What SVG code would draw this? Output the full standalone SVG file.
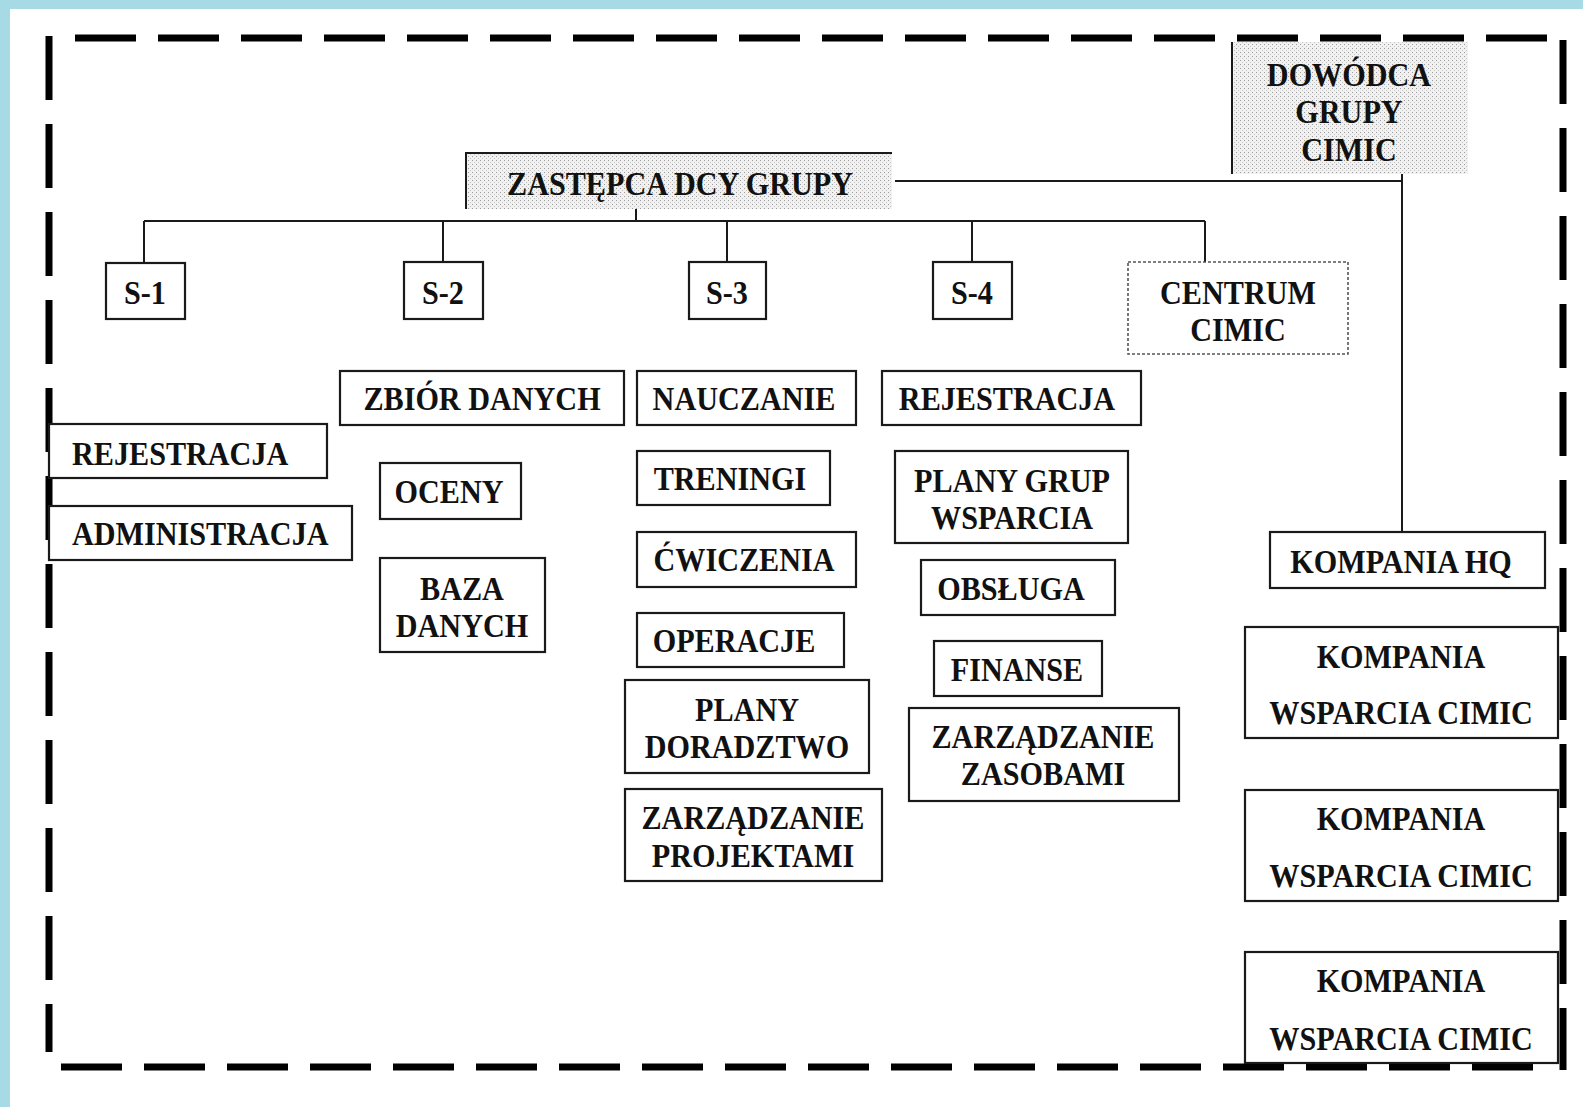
<svg xmlns="http://www.w3.org/2000/svg" width="1583" height="1107" viewBox="0 0 1583 1107">
<defs>
<style>
.bx{fill:#fff;stroke:#1a1a1a;stroke-width:2.2}
.dt{fill:#fff;stroke:#555;stroke-width:1.6;stroke-dasharray:3 2}
.t{font-family:"Liberation Serif","Times New Roman",serif;font-weight:bold;font-size:33px;fill:#111;text-anchor:middle;transform-box:fill-box;transform-origin:center;transform:scaleX(0.915)}
.ts{text-anchor:start;transform-origin:left center}
.cn{stroke:#1a1a1a;stroke-width:2;fill:none}
.bh{stroke:#000;stroke-width:7;fill:none;stroke-dasharray:61 22}
.bv{stroke:#000;stroke-width:7;fill:none;stroke-dasharray:64 24}
</style>
<pattern id="stip" width="4" height="4" patternUnits="userSpaceOnUse"><rect width="4" height="4" fill="#f1f1f1"/><rect width="1" height="1" fill="#9c9c9c"/><rect x="2" y="2" width="1" height="1" fill="#c4c4c4"/></pattern>
</defs>
<rect width="1583" height="1107" fill="#a6dbe6"/>
<rect x="10" y="9" width="1573" height="1098" fill="#fff"/>

<g id="frame">
<path class="bh" d="M75 38 H1552"/>
<path class="bh" d="M61 1067 H1552"/>
<path class="bv" d="M49 36 V1052"/>
<path class="bv" d="M1563 40 V1070"/>
</g>

<g id="connectors">
<path class="cn" d="M895 181 H1402 M1402 174 V532"/>
<path class="cn" d="M636 209 V221 M144 221 H1205"/>
<path class="cn" d="M144 221 V263 M443 221 V262 M727 221 V262 M972 221 V262 M1205 221 V262"/>
</g>

<g id="dowodca">
<rect x="1232" y="42" width="236" height="132" fill="url(#stip)"/>
<path class="cn" d="M1232 42 V174"/>
<text class="t" x="1349" y="86">DOWÓDCA</text>
<text class="t" x="1349" y="123">GRUPY</text>
<text class="t" x="1349" y="161">CIMIC</text>
</g>

<g id="zastepca">
<rect x="466" y="153" width="426" height="56" fill="url(#stip)"/>
<path class="cn" d="M466 209 V153 H892"/>
<text class="t" x="680" y="195">ZASTĘPCA DCY GRUPY</text>
</g>

<g id="s1"><rect class="bx" x="106" y="263" width="79" height="56"/><text class="t" x="145" y="304">S-1</text></g>
<g id="s2"><rect class="bx" x="404" y="262" width="79" height="57"/><text class="t" x="443" y="304">S-2</text></g>
<g id="s3"><rect class="bx" x="689" y="262" width="77" height="57"/><text class="t" x="727" y="304">S-3</text></g>
<g id="s4"><rect class="bx" x="933" y="262" width="79" height="57"/><text class="t" x="972" y="304">S-4</text></g>
<g id="centrum"><rect class="dt" x="1128" y="262" width="220" height="92"/><text class="t" x="1238" y="304">CENTRUM</text><text class="t" x="1238" y="341">CIMIC</text></g>

<g id="rejestracja1"><rect class="bx" x="49" y="424" width="278" height="54"/><text class="t ts" x="72" y="465">REJESTRACJA</text></g>
<g id="administracja"><rect class="bx" x="49" y="506" width="303" height="54"/><text class="t ts" x="72" y="545">ADMINISTRACJA</text></g>

<g id="zbior"><rect class="bx" x="340" y="371" width="284" height="54"/><text class="t" x="482" y="410">ZBIÓR DANYCH</text></g>
<g id="oceny"><rect class="bx" x="380" y="463" width="141" height="56"/><text class="t" x="449" y="503">OCENY</text></g>
<g id="baza"><rect class="bx" x="380" y="558" width="165" height="94"/><text class="t" x="462" y="600">BAZA</text><text class="t" x="462" y="637">DANYCH</text></g>

<g id="nauczanie"><rect class="bx" x="637" y="371" width="219" height="54"/><text class="t" x="744" y="410">NAUCZANIE</text></g>
<g id="treningi"><rect class="bx" x="637" y="451" width="193" height="54"/><text class="t" x="730" y="490">TRENINGI</text></g>
<g id="cwiczenia"><rect class="bx" x="637" y="532" width="219" height="55"/><text class="t" x="744" y="571">ĆWICZENIA</text></g>
<g id="operacje"><rect class="bx" x="637" y="613" width="207" height="54"/><text class="t" x="734" y="652">OPERACJE</text></g>
<g id="plany"><rect class="bx" x="625" y="680" width="244" height="93"/><text class="t" x="747" y="721">PLANY</text><text class="t" x="747" y="758">DORADZTWO</text></g>
<g id="zarzadzanie1"><rect class="bx" x="625" y="789" width="257" height="92"/><text class="t" x="753" y="829">ZARZĄDZANIE</text><text class="t" x="753" y="867">PROJEKTAMI</text></g>

<g id="rejestracja2"><rect class="bx" x="882" y="371" width="259" height="54"/><text class="t" x="1007" y="410">REJESTRACJA</text></g>
<g id="planygrup"><rect class="bx" x="895" y="451" width="233" height="92"/><text class="t" x="1012" y="492">PLANY GRUP</text><text class="t" x="1012" y="529">WSPARCIA</text></g>
<g id="obsluga"><rect class="bx" x="921" y="560" width="194" height="55"/><text class="t" x="1011" y="600">OBSŁUGA</text></g>
<g id="finanse"><rect class="bx" x="934" y="641" width="168" height="55"/><text class="t" x="1017" y="681">FINANSE</text></g>
<g id="zarzadzanie2"><rect class="bx" x="909" y="708" width="270" height="93"/><text class="t" x="1043" y="748">ZARZĄDZANIE</text><text class="t" x="1043" y="785">ZASOBAMI</text></g>

<g id="kompaniahq"><rect class="bx" x="1270" y="532" width="275" height="56"/><text class="t" x="1401" y="573">KOMPANIA HQ</text></g>
<g id="kompania1"><rect class="bx" x="1245" y="627" width="313" height="111"/><text class="t" x="1401" y="668">KOMPANIA</text><text class="t" x="1401" y="724">WSPARCIA CIMIC</text></g>
<g id="kompania2"><rect class="bx" x="1245" y="790" width="313" height="111"/><text class="t" x="1401" y="830">KOMPANIA</text><text class="t" x="1401" y="887">WSPARCIA CIMIC</text></g>
<g id="kompania3"><rect class="bx" x="1245" y="952" width="313" height="111"/><text class="t" x="1401" y="992">KOMPANIA</text><text class="t" x="1401" y="1050">WSPARCIA CIMIC</text></g>
</svg>
